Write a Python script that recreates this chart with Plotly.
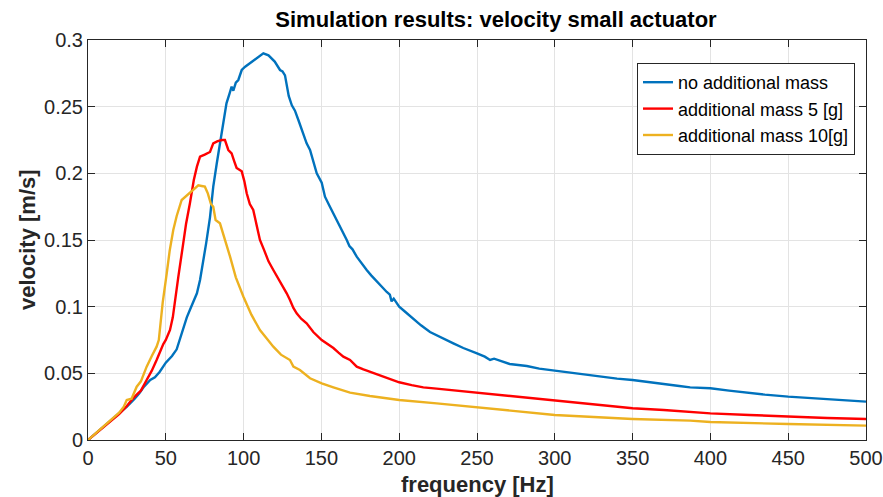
import plotly.graph_objects as go

# ---- data ----
freq_blue = [0, 5, 10, 15, 20, 25, 30, 33, 36, 40, 43, 46, 50, 54, 57, 60, 62, 63.5, 66, 70,
             72, 74, 76, 78.4, 80.5, 82.7, 85, 87, 89, 91, 92.3, 93.4, 95, 96.6, 98.8, 101, 104,
             108, 112.7, 116, 120, 123.4, 125, 126.6, 129, 131, 133, 135.2, 138, 140.5, 142.7,
             145, 147, 150.2, 152.3, 155, 157.7, 160, 162, 166.3, 168, 170, 172.7, 176, 179.1,
             182, 185.5, 189, 192, 194, 195.1, 196.5, 200, 204, 209, 214, 219.8, 224, 228.4,
             234.8, 241.2, 245, 250, 255, 258.4, 261, 265, 271, 282, 290, 300, 310, 318, 330,
             340, 350, 365, 380, 387, 400, 412, 423, 435, 450, 465, 477, 490, 500]
vel_blue = [0, 0.005, 0.0095, 0.0145, 0.0195, 0.025, 0.031, 0.035, 0.04, 0.045, 0.047, 0.051,
            0.058, 0.063, 0.068, 0.08, 0.086, 0.092, 0.099, 0.11, 0.12, 0.133, 0.148, 0.167,
            0.19, 0.207, 0.225, 0.24, 0.2525, 0.26, 0.265, 0.262, 0.268, 0.27, 0.2775, 0.28,
            0.2825, 0.286, 0.29, 0.2885, 0.2838, 0.2775, 0.2765, 0.2735, 0.258, 0.251, 0.247,
            0.24, 0.2305, 0.2225, 0.2175, 0.207, 0.2, 0.193, 0.1825, 0.176, 0.17, 0.165, 0.16,
            0.15, 0.1455, 0.143, 0.1375, 0.132, 0.1275, 0.1235, 0.119, 0.115, 0.111, 0.109,
            0.104, 0.106, 0.1, 0.096, 0.091, 0.086, 0.081, 0.0785, 0.076, 0.0725, 0.069,
            0.0675, 0.065, 0.0625, 0.06, 0.061, 0.0595, 0.057, 0.0555, 0.0535, 0.052, 0.0505,
            0.0488, 0.0475, 0.046, 0.045, 0.0425, 0.0405, 0.0395, 0.0388, 0.037, 0.0355,
            0.034, 0.0325, 0.0315, 0.0305, 0.0295, 0.0288]

freq_red = [0, 5, 10, 15, 20, 25, 28, 31.3, 34, 37.7, 41, 44.1, 46, 48.4, 50, 52.7, 54.5, 55.9,
            58, 61.2, 63, 65.5, 68, 70, 72, 75, 78.4, 80.5, 83, 85.9, 88, 90.2, 92.3, 94, 95.5,
            98.8, 100.5, 102, 104, 106.2, 108, 110.5, 113, 116, 119.1, 123, 127.7, 129.8, 132,
            134.1, 137, 140.5, 144.8, 150.2, 154, 157.7, 161, 164.1, 168.4, 172.7, 177, 181.2,
            183.4, 186, 189.8, 195, 200, 208, 215.5, 224, 232.6, 241, 250, 260, 271.2, 285,
            300, 315, 330, 350, 370, 387, 400, 425, 450, 475, 500]
vel_red = [0, 0.005, 0.0095, 0.0145, 0.0195, 0.0255, 0.03, 0.034, 0.037, 0.045, 0.052, 0.06,
           0.066, 0.072, 0.075, 0.0825, 0.092, 0.105, 0.122, 0.1475, 0.162, 0.1775, 0.195,
           0.205, 0.2125, 0.214, 0.216, 0.2225, 0.224, 0.225, 0.225, 0.2175, 0.215, 0.209,
           0.204, 0.2015, 0.194, 0.185, 0.177, 0.1725, 0.162, 0.15, 0.143, 0.134, 0.1275,
           0.12, 0.11, 0.105, 0.099, 0.095, 0.091, 0.0875, 0.081, 0.075, 0.072, 0.069, 0.0655,
           0.0625, 0.06, 0.055, 0.053, 0.0513, 0.05, 0.049, 0.0475, 0.0455, 0.0433, 0.0412,
           0.0395, 0.0385, 0.0375, 0.0362, 0.035, 0.034, 0.0325, 0.031, 0.0295, 0.0275,
           0.026, 0.0238, 0.0225, 0.0213, 0.02, 0.0188, 0.0175, 0.0165, 0.0158]

freq_yellow = [0, 5, 10, 15, 20, 23, 24.9, 28, 31.3, 34, 37.7, 41, 44.1, 45.5, 46.3, 48, 50.6,
               52.5, 54.8, 57, 60.2, 63, 65.5, 68, 70.9, 73, 75.1, 77, 79, 80.5, 82, 84.8, 86,
               88, 91.3, 95, 99.9, 105, 110.5, 115, 119.1, 124, 129.8, 132, 136.2, 142.7,
               150.2, 157.7, 168.4, 181.2, 200, 224.1, 250, 265, 271.2, 300, 325, 350, 387,
               400, 450, 500]
vel_yellow = [0, 0.005, 0.01, 0.015, 0.0205, 0.025, 0.03, 0.031, 0.04, 0.044, 0.055, 0.063,
              0.07, 0.075, 0.085, 0.103, 0.125, 0.142, 0.1575, 0.168, 0.18, 0.183, 0.185,
              0.188, 0.191, 0.1905, 0.19, 0.185, 0.177, 0.175, 0.165, 0.1625, 0.158, 0.15,
              0.1375, 0.122, 0.1075, 0.094, 0.0825, 0.076, 0.07, 0.064, 0.06, 0.055, 0.0525,
              0.0463, 0.0425, 0.0395, 0.0355, 0.033, 0.03, 0.0275, 0.0245, 0.0225, 0.022,
              0.01875, 0.0172, 0.0158, 0.0145, 0.0135, 0.012, 0.0108]

series_names = ["no additional mass", "additional mass 5 [g]", "additional mass 10[g]"]
series_colors = ["#0072BD", "#FF0000", "#EDB120"]

x_ticks = [0, 50, 100, 150, 200, 250, 300, 350, 400, 450, 500]
y_ticks = [0, 0.05, 0.1, 0.15, 0.2, 0.25, 0.3]
y_tick_labels = ["0", "0.05", "0.1", "0.15", "0.2", "0.25", "0.3"]

FONT = "Liberation Sans, Arial, Helvetica, sans-serif"
AXC = "#262626"

fig = go.Figure()
for xs, ys, name, col in zip([freq_blue, freq_red, freq_yellow],
                             [vel_blue, vel_red, vel_yellow],
                             series_names, series_colors):
    fig.add_trace(go.Scatter(x=xs, y=ys, mode="lines", name=name,
                             line=dict(color=col, width=2.4)))

axis_common = dict(showline=True, linecolor=AXC, linewidth=1, mirror="ticks",
                   ticks="inside", ticklen=7, tickcolor=AXC, tickwidth=1,
                   showgrid=True, gridcolor="#e3e3e3", gridwidth=1, zeroline=False,
                   automargin=False,
                   tickfont=dict(family=FONT, size=20, color=AXC))

fig.update_layout(
    width=883, height=497,
    margin=dict(l=88, r=17, t=40, b=57, autoexpand=False),
    paper_bgcolor="white", plot_bgcolor="white",
    title=dict(text="<b>Simulation results: velocity small actuator</b>",
               x=(496 - 88) / 778, xref="paper", xanchor="center",
               y=1 - 19 / 497, yref="container", yanchor="middle",
               font=dict(family=FONT, size=22, color="black")),
    xaxis=dict(range=[0, 500], tickvals=x_ticks, **axis_common),
    yaxis=dict(range=[0, 0.3], tickvals=y_ticks, ticktext=y_tick_labels, **axis_common),
    legend=dict(x=(637 - 88) / 778, y=(440 - 63) / 400, xanchor="left", yanchor="top",
                bgcolor="white", bordercolor="#262626", borderwidth=1,
                font=dict(family=FONT, size=18, color="black"),
                itemwidth=30, tracegroupgap=0),
    showlegend=True,
    annotations=[
        dict(text="<b>frequency [Hz]</b>", xref="paper", yref="paper",
             x=(477 - 88) / 778, y=(440 - 484) / 400, xanchor="center", yanchor="middle",
             showarrow=False, font=dict(family=FONT, size=22, color=AXC)),
        dict(text="<b>velocity [m/s]</b>", xref="paper", yref="paper",
             x=(27 - 88) / 778, y=0.5, xanchor="center", yanchor="middle", textangle=-90,
             showarrow=False, font=dict(family=FONT, size=22, color=AXC)),
    ],
)

fig.write_html("out.html", config={"displayModeBar": False},
               post_script="document.body.style.margin='0px';document.body.style.padding='0px';")
